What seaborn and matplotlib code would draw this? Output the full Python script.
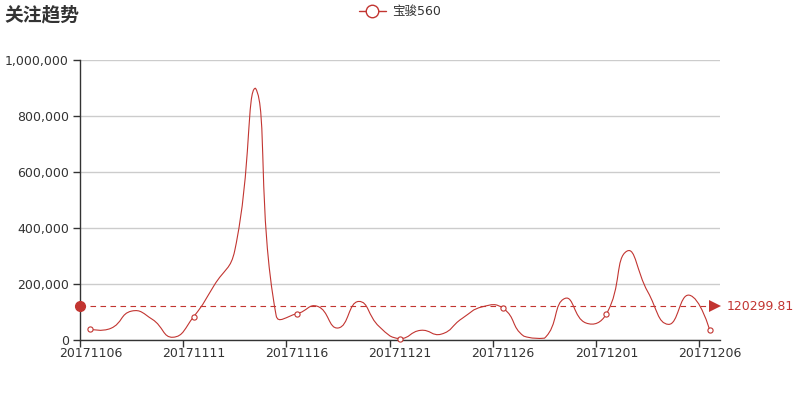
import numpy as np
import pandas as pd
import matplotlib
matplotlib.use("Agg")
import matplotlib.pyplot as plt
from matplotlib.path import Path
from matplotlib.patches import PathPatch
from matplotlib.lines import Line2D
from matplotlib.ticker import FuncFormatter, FixedLocator
import seaborn as sns

# ── Data ───────────────────────────────────────────────────
dates = [f"201711{d:02d}" for d in range(6, 31)] + [f"201712{d:02d}" for d in range(1, 7)]
values = [38512, 41876, 103254, 73918, 9845, 82731, 195412, 320876, 899157, 87654,
          93712, 120345, 42876, 137654, 47523, 4876, 34512, 20987, 76543, 118765,
          112876, 13654, 6543, 148765, 60987, 93456, 317654, 172345, 55876, 160234,
          35876]
series_name = "宝骏560"
title = "关注趋势"

RED = "#c23531"
TXT = "#333333"

df = pd.DataFrame({"date": dates, "value": values})
df["idx"] = np.arange(len(df))
avg = df["value"].mean()

# ── Style ──────────────────────────────────────────────────
sns.set_style("white")
plt.rcParams["font.family"] = ["DejaVu Sans", "Noto Sans CJK SC"]

fig = plt.figure(figsize=(8, 4), dpi=100)
ax = fig.add_axes([0.1, 0.15, 0.8, 0.7])
n = len(df)
ax.set_xlim(-0.5, n - 0.5)
ax.set_ylim(0, 1_000_000)

# ── Smooth line (echarts-like bezier, smooth=0.5) ──────────
sx = 640 / n
sy = 280 / 1_000_000
pts = np.column_stack([df["idx"].values * sx, df["value"].values * sy])
lo, hi = pts.min(axis=0), pts.max(axis=0)
cps = []
for i in range(n):
    if i == 0 or i == n - 1:
        cps.append((pts[i].copy(), pts[i].copy()))
        continue
    prev, cur, nxt = pts[i - 1], pts[i], pts[i + 1]
    v = (nxt - prev) * 0.5
    d0 = np.linalg.norm(cur - prev)
    d1 = np.linalg.norm(cur - nxt)
    s = d0 + d1
    if s:
        d0, d1 = d0 / s, d1 / s
    cp0 = np.clip(cur - v * d0, lo, hi)
    cp1 = np.clip(cur + v * d1, lo, hi)
    cps.append((cp0, cp1))

scale = np.array([sx, sy])
verts = [pts[0] / scale]
codes = [Path.MOVETO]
for i in range(n - 1):
    verts += [cps[i][1] / scale, cps[i + 1][0] / scale, pts[i + 1] / scale]
    codes += [Path.CURVE4] * 3
ax.add_patch(PathPatch(Path(verts, codes), fill=False, edgecolor=RED, lw=0.8, zorder=3))

# symbols every 5th point
sub = df[df["idx"] % 5 == 0]
sns.scatterplot(data=sub, x="idx", y="value", ax=ax, marker="o", s=14,
                facecolor="white", edgecolor=RED, linewidth=0.8, zorder=4, clip_on=False)

# ── Average mark line ─────────────────────────────────────
ax.axhline(avg, color=RED, lw=0.8, ls=(0, (5, 4)), zorder=2)
ax.plot([-0.5], [avg], "o", color=RED, ms=7, clip_on=False, zorder=5)
ax.plot([n - 0.5 - 5 / sx], [avg], ">", color=RED, ms=8, mew=0, clip_on=False, zorder=5)
ax.annotate(f"{avg:.2f}", xy=(n - 0.5, avg), xytext=(5, 0), textcoords="offset points",
            color=RED, fontsize=9, va="center", ha="left", annotation_clip=False)

# ── Axes ───────────────────────────────────────────────────
ax.set_xlabel("")
ax.set_ylabel("")
ax.yaxis.set_major_locator(FixedLocator(np.arange(0, 1_000_001, 200_000)))
ax.yaxis.set_major_formatter(FuncFormatter(lambda v, p: f"{int(v):,}"))
ax.grid(axis="y", color="#cccccc", lw=1)
ax.grid(axis="x", visible=False)

ax.xaxis.set_major_locator(FixedLocator(np.arange(-0.5, n - 1, 5)))
ax.xaxis.set_major_formatter(FuncFormatter(lambda v, p: ""))
ax.xaxis.set_minor_locator(FixedLocator(np.arange(0, n, 5)))
ax.set_xticklabels([dates[i] for i in range(0, n, 5)], minor=True)
ax.tick_params(axis="x", which="major", length=5, width=1, color=TXT, bottom=True)
ax.tick_params(axis="x", which="minor", length=0, labelsize=9, labelcolor=TXT, pad=5)
ax.tick_params(axis="y", length=5, width=1, color=TXT, left=True, labelsize=9,
               labelcolor=TXT, pad=3)

for side in ["top", "right"]:
    ax.spines[side].set_visible(False)
for side in ["left", "bottom"]:
    ax.spines[side].set_color(TXT)
    ax.spines[side].set_linewidth(1)

# ── Title & legend ─────────────────────────────────────────
fig.text(0.006, 0.962, title, fontsize=13.5, fontweight="bold", color=TXT,
         va="center", ha="left", family=["Noto Sans CJK SC", "DejaVu Sans"])
handle = Line2D([], [], color=RED, lw=1, marker="o", ms=9, mfc="white", mec=RED, mew=1)
fig.legend([handle], [series_name], loc="upper center", bbox_to_anchor=(0.5, 1.015),
           frameon=False, fontsize=9, labelcolor=TXT, handlelength=2.2,
           handletextpad=0.5, prop={"family": ["DejaVu Sans", "Noto Sans CJK SC"], "size": 9})

fig.savefig("out.png", dpi=100)
